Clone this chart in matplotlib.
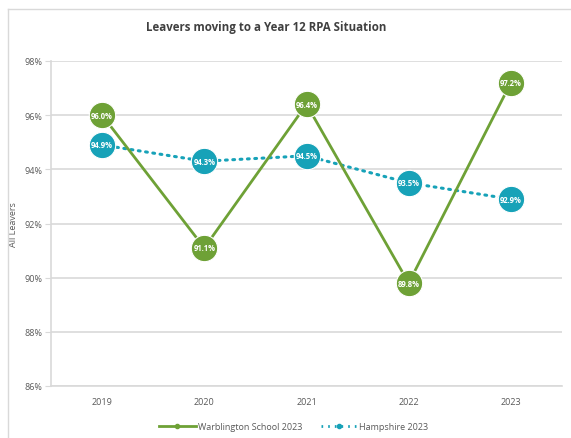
import matplotlib
matplotlib.use("Agg")
import matplotlib.pyplot as plt
from matplotlib.lines import Line2D
from matplotlib.ticker import FuncFormatter

years = ["2019", "2020", "2021", "2022", "2023"]
school = [96.0, 91.1, 96.4, 89.8, 97.2]
hampshire = [94.9, 94.3, 94.5, 93.5, 92.9]
series_names = ["Warblington School 2023", "Hampshire 2023"]

GREEN = "#6ea136"
TEAL = "#17a2b8"
GREY = "#595959"

plt.rcParams['font.family'] = ['Open Sans', 'DejaVu Sans']

fig = plt.figure(figsize=(5.71, 4.39), dpi=100)
ax = fig.add_axes([51/571, 1 - 387/439, (562 - 51)/571, (387 - 62)/439])

x = range(len(years))
ax.plot(x, hampshire, color=TEAL, lw=2.2, ls=(0, (0.6, 1.8)), dash_capstyle="round",
        marker="o", ms=19, mfc=TEAL, mec="white", mew=0.8, zorder=3)
ax.plot(x, school, color=GREEN, lw=2.0, marker="o", ms=19,
        mfc=GREEN, mec="white", mew=0.8, zorder=4)

for xi, v in zip(x, hampshire):
    ax.text(xi, v, f"{v:.1f}%", ha="center", va="center", color="white",
            fontsize=5.5, fontweight="bold", zorder=5)
for xi, v in zip(x, school):
    ax.text(xi, v, f"{v:.1f}%", ha="center", va="center", color="white",
            fontsize=5.5, fontweight="bold", zorder=6)

ax.set_xlim(-0.5, len(years) - 0.5)
ax.set_ylim(86, 98)
ax.set_yticks(range(86, 99, 2))
ax.yaxis.set_major_formatter(FuncFormatter(lambda v, p: f"{v:.0f}%"))
ax.set_xticks(list(x))
ax.set_xticklabels(years)
ax.grid(axis="y", color="#d9d9d9", lw=1.2)
ax.set_axisbelow(True)
for s in ["top", "right"]:
    ax.spines[s].set_visible(False)
ax.spines["left"].set_color("#d9d9d9")
ax.spines["bottom"].set_color("#d9d9d9")
ax.spines["left"].set_linewidth(1.2)
ax.spines["bottom"].set_linewidth(1.2)
ax.tick_params(axis="y", length=4, color="#d9d9d9", labelsize=6.5, labelcolor=GREY, pad=2)
ax.tick_params(axis="x", length=0, labelsize=6.5, labelcolor=GREY, pad=8)
ax.set_ylabel("All Leavers", fontsize=6.5, color=GREY)
ax.yaxis.set_label_coords((18 - 51)/511, 0.5)

fig.text(266/571, 1 - 28/439, "Leavers moving to a Year 12 RPA Situation", ha="center", va="center",
         fontsize=8.3, fontweight="bold", color="#404040")

handles = [
    Line2D([], [], color=GREEN, lw=2, marker="o", ms=3, mfc=GREEN, mec=GREEN),
    Line2D([], [], color=TEAL, lw=2, ls=(0, (0.6, 1.8)), marker="o", ms=3, mfc=TEAL, mec=TEAL),
]
fig.legend(handles, series_names, loc="center", bbox_to_anchor=(294/571, 1 - 428/439), ncol=2,
           frameon=False, fontsize=6.5, labelcolor=GREY, handlelength=4.0, columnspacing=2.0,
           handletextpad=0.3)

# outer frame of the chart
fig.add_artist(Line2D([8/571, 8/571], [0, 1 - 10/439], color="#d9d9d9", lw=1, transform=fig.transFigure))
fig.add_artist(Line2D([8/571, 1], [1 - 10/439, 1 - 10/439], color="#d9d9d9", lw=1, transform=fig.transFigure))

fig.savefig("out.png", dpi=100)
